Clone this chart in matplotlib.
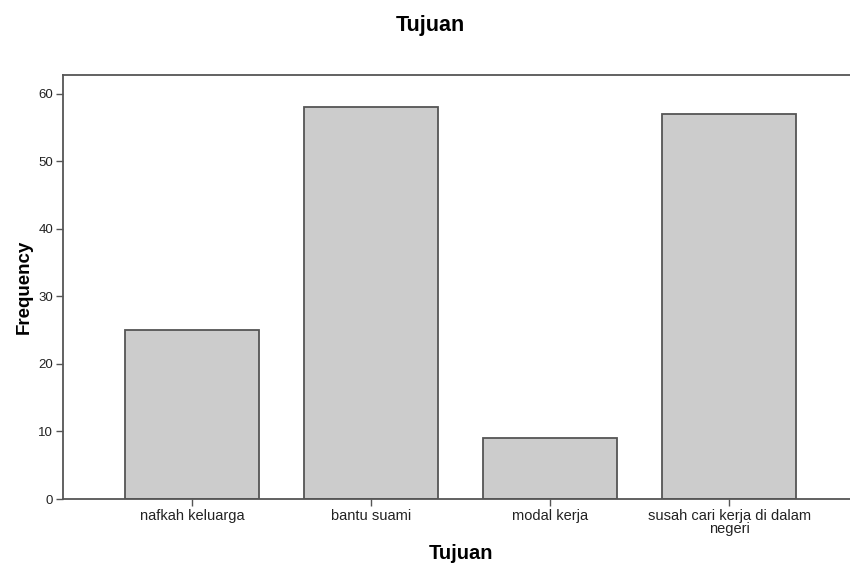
import matplotlib
matplotlib.use('Agg')
import matplotlib.pyplot as plt
import numpy as np

plt.rcParams['font.family'] = ['Liberation Sans', 'DejaVu Sans']

categories = ['nafkah keluarga', 'bantu suami', 'modal kerja',
              'susah cari kerja di dalam\nnegeri']
frequency = [25, 58, 9, 57]
yticks = [0, 10, 20, 30, 40, 50, 60]

fig = plt.figure(figsize=(8.5, 5.63), dpi=100)
ax = fig.add_axes([63/850, 64/563, 795/850, 424/563])

x = np.arange(len(categories))
ax.bar(x, frequency, width=0.75, color='#cccccc', edgecolor='#555555', linewidth=1.3)

ax.set_xlim(-0.72, 3.72)
ax.set_ylim(0, 62.8)
ax.set_xticks(x)
ax.set_xticklabels(categories, fontsize=10.5, color='#222222', linespacing=0.9)
ax.set_yticks(yticks)
ax.tick_params(axis='y', labelsize=9.5, labelcolor='#222222', length=5, color='#555555', width=1, pad=2)
ax.tick_params(axis='x', length=5, color='#555555', width=1, pad=2)

for s in ax.spines.values():
	s.set_color('#555555')
	s.set_linewidth(1.3)

ax.set_xlabel('Tujuan', fontsize=14.5, fontweight='bold', labelpad=6)
ax.set_ylabel('Frequency', fontsize=13.5, fontweight='bold', labelpad=4)
fig.text(430/850, 1 - 25/563, 'Tujuan', ha='center', va='center', fontsize=15.5, fontweight='bold')

fig.savefig('out.png', dpi=100)
